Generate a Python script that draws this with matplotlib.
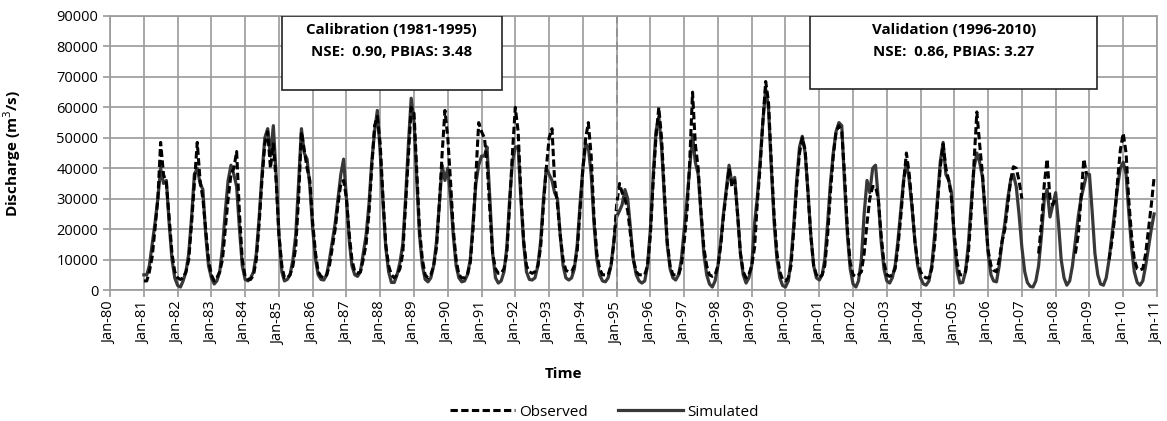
import numpy as np
import pandas as pd
import matplotlib
matplotlib.use('Agg')
import matplotlib.pyplot as plt
import matplotlib.dates as mdates
from matplotlib.patches import Rectangle

plt.rcParams['font.family'] = ['Open Sans', 'DejaVu Sans']

# monthly discharge, thousands of m3/s, Jan 1981 - Dec 2010 (one row per year)
nan = np.nan
simulated_k = [
    5, 5, 8, 15, 22, 30, 40, 35, 36, 22, 10, 4,
    1.5, 1, 3, 6, 12, 24, 38, 40, 35, 33, 18, 8,
    4, 2, 3, 6, 14, 26, 36, 41, 38, 34, 20, 8,
    3.5, 3, 4, 6, 12, 24, 38, 50, 53, 44, 54, 38,
    18, 6, 3, 3.5, 5, 10, 18, 35, 53, 45, 43, 34,
    20, 10, 5, 3.5, 3.3, 5, 10, 16, 22, 30, 38, 43,
    30, 16, 8, 5, 4.5, 6, 12, 18, 28, 42, 52, 59,
    45, 28, 14, 6, 2.5, 2.5, 5, 9, 15, 30, 48, 63,
    55, 35, 18, 8, 3.5, 2.7, 4, 8, 16, 28, 41, 36,
    40, 30, 18, 8, 4, 2.7, 3, 5, 10, 22, 35, 41,
    44, 44, 47, 30, 12, 4, 2.3, 3, 6, 14, 30, 42,
    47, 47, 30, 15, 6, 3.5, 3.3, 4, 8, 16, 30, 40,
    38, 36, 32, 30, 18, 8, 4, 3.3, 4, 7, 15, 28,
    40, 48, 47, 38, 22, 10, 5, 3, 2.7, 4, 8, 16,
    24, 26, 28, 33, 30, 20, 10, 5, 3, 2.3, 3, 8,
    20, 38, 52, 57, 47, 30, 15, 7, 4, 3.3, 5, 10,
    20, 30, 40, 51, 42, 38, 25, 12, 5, 2, 1, 3,
    8, 16, 25, 33, 41, 35, 37, 25, 12, 5, 2.3, 4,
    8, 22, 30, 42, 55, 66, 60, 40, 22, 10, 4, 1.5,
    1, 3, 10, 22, 36, 47, 50.5, 45, 32, 18, 8, 4,
    3.3, 5, 10, 22, 35, 45, 52, 55, 54, 35, 18, 7,
    2, 1, 3, 10, 25, 36, 32, 40, 41, 30, 16, 7,
    3, 2.3, 4, 8, 16, 26, 36, 42, 36, 27, 16, 8,
    4, 2, 1.6, 3, 8, 18, 30, 42, 48.5, 38, 36, 32,
    16, 6, 2.3, 2.5, 6, 15, 28, 40, 45, 42, 37, 25,
    12, 5, 3, 2.7, 8, 16, 22, 30, 36, 38, 34, 25,
    14, 6, 2.5, 1.2, 1, 3, 8, 18, 30, 33, 24, 28,
    32, 22, 10, 4, 1.6, 3, 8, 16, 24, 30, 34, 38,
    38, 25, 12, 5, 2, 1.6, 4, 10, 18, 26, 34, 40,
    42, 38, 26, 14, 6, 2.5, 1.6, 3, 8, 14, 20, 25,
]
observed_k = [
    3, 3, 6, 11, 20, 30, 48.5, 38, 35, 24, 12, 6,
    4, 3.5, 4, 6, 10, 22, 35, 48.5, 36, 30, 20, 10,
    5, 3, 4, 6, 10, 20, 30, 38, 40, 45.5, 25, 10,
    4.5, 3.5, 3.5, 5, 10, 22, 36, 48, 52, 40, 48, 36,
    18, 8, 4, 4, 5, 8, 14, 30, 52, 46, 40, 36,
    22, 12, 6, 4.5, 4, 5, 8, 14, 20, 28, 35, 36,
    30, 18, 10, 6, 5.5, 6, 10, 15, 25, 40, 54, 57,
    48, 30, 15, 8, 5, 4, 5, 7, 12, 28, 45, 60,
    58, 38, 20, 10, 5, 4, 5, 8, 14, 28, 45, 59,
    50, 35, 20, 10, 5, 4, 4, 5, 9, 20, 38, 55,
    52, 50, 42, 26, 12, 7, 5.5, 5.5, 7, 12, 28, 45,
    60, 52, 32, 16, 8, 6, 5.5, 6, 8, 14, 28, 40,
    50, 53, 36, 28, 18, 10, 6.5, 6, 6, 8, 13, 26,
    40, 50, 55, 44, 24, 12, 7, 5, 5, 5, 8, 15,
    28, 35, 32, 30, 26, 18, 10, 6, 5, 5, 5, 8,
    18, 36, 50, 60, 50, 32, 16, 8, 5, 5, 5, 8,
    16, 26, 42, 65, 48, 40, 26, 14, 8, 5, 4.5, 5,
    8, 15, 24, 32, 40, 34, 36, 25, 12, 6, 4, 5,
    8, 14, 28, 40, 55, 68.5, 62, 42, 24, 12, 6, 3.5,
    3, 4, 8, 20, 34, 45, 50, 46, 32, 18, 8, 5,
    4, 5, 8, 18, 32, 44, 52, 54, 52, 38, 20, 9,
    5, 4.4, 5, 6, 12, 22, 30, 34, 34, 30, 18, 9,
    5, 4.5, 5, 7, 14, 24, 35, 45, 38, 28, 16, 9,
    6, 4.5, 4, 4, 7, 15, 28, 40, 48, 40, 36, 30,
    18, 9, 5, 5, 6, 12, 25, 42, 58.5, 48, 38, 25,
    13, 8, 6.5, 6, 10, 16, 20, 28, 36, 40.5, 40, 36,
    30, nan, nan, nan, nan, nan, 12, 22, 35, 43, 30, 28,
    30, nan, nan, nan, nan, nan, nan, 12, 18, 30, 43, 38,
    nan, nan, nan, nan, nan, nan, nan, 10, 16, 24, 36, 46,
    51.5, 45, 30, 18, 10, 7, 6.6, 7, 12, 20, 28, 37,
]

months = pd.date_range('1981-01-01', periods=len(simulated_k), freq='MS')
simulated = np.array(simulated_k) * 1000
observed = np.array(observed_k) * 1000

fig = plt.figure(figsize=(11.67, 4.21), dpi=100)
ax = fig.add_axes([0.0943, 0.311, 0.8971, 0.651])

gridc = '#9a9a9a'
ax.plot(months, simulated, color='#383838', lw=2.3, label='Simulated')
ax.plot(months, observed, color='black', lw=2.2, ls=(0, (2.4, 1.1)), label='Observed')
ax.axvline(pd.Timestamp('1995-01-01'), color='#8c8c8c', lw=1.2, ls=(0, (5, 3)))

ax.set_xlim(pd.Timestamp('1980-01-01'), pd.Timestamp('2011-01-01'))
ax.set_ylim(0, 90000)
ax.set_yticks(np.arange(0, 90001, 10000))
ax.xaxis.set_major_locator(mdates.YearLocator())
ax.xaxis.set_major_formatter(mdates.DateFormatter('%b-%y'))
plt.setp(ax.get_xticklabels(), rotation=90)
ax.tick_params(axis='both', labelsize=10.5, color=gridc, length=5, width=1.2)
ax.grid(True, color=gridc, lw=1.2)
for s in ax.spines.values():
    s.set_color(gridc)
    s.set_linewidth(1.2)

ax.set_xlabel('Time', fontsize=11, fontweight='bold')
ax.xaxis.set_label_coords(0.433, -0.28)
ax.set_ylabel('Discharge (m$^3$/s)', fontsize=11, fontweight='bold')
ax.yaxis.set_label_coords(-0.083, 0.5)

# calibration / validation boxes
for x0, w, h, title, stats in [
    (0.164, 0.210, 0.270, 'Calibration (1981-1995)', 'NSE:  0.90, PBIAS: 3.48'),
    (0.669, 0.274, 0.266, 'Validation (1996-2010)', 'NSE:  0.86, PBIAS: 3.27'),
]:
    ax.add_patch(Rectangle((x0, 1 - h), w, h, transform=ax.transAxes,
                           facecolor='white', edgecolor='#222222', lw=1.2, zorder=5))
    ax.text(x0 + w / 2, 0.948, title, transform=ax.transAxes, ha='center', va='center',
            fontsize=10.8, fontweight='bold', zorder=6)
    ax.text(x0 + w / 2, 0.868, stats, transform=ax.transAxes, ha='center', va='center',
            fontsize=10.8, fontweight='bold', zorder=6)

h, l = ax.get_legend_handles_labels()
fig.legend(h[::-1], l[::-1], loc='center', bbox_to_anchor=(0.518, 0.021), ncol=2,
           frameon=False, fontsize=11, handlelength=4.2, columnspacing=2.0, handletextpad=0.3)

fig.savefig('out.png', dpi=100)
